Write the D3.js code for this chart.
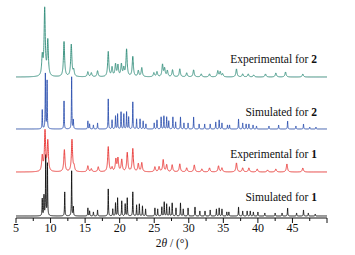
<!DOCTYPE html>
<meta charset="utf-8">
<script src="https://d3js.org/d3.v7.min.js"></script>
<style>
  body { margin: 0; background: #fff; }
</style>
<div id="chart"></div>
<script>
// Peak lists: [2theta, intensity]
var sim1Peaks = [[8.8,17],[9.05,20],[9.3,60],[9.55,52],[12.05,24],[13.05,45],[13.3,9],[15.4,8],[15.65,5],[16.2,4],[16.8,6],
  [18.35,27],[19.0,7],[19.4,13],[19.7,18],[20.3,15],[20.8,12],[21.1,18],[21.9,24],[22.45,11],[22.85,12],[23.3,10],[23.75,7],
  [25.1,8],[25.5,7],[26.1,9],[26.45,14],[26.8,12],[27.2,9],[27.6,13],[28.15,8],[28.8,13],[29.2,7],[29.9,8],[30.9,9],[31.6,5],
  [32.35,5],[33.1,6],[34.0,7],[34.4,8],[34.8,7],[35.5,4],[35.8,4],[37.2,9],[37.8,5],[38.45,5],[38.9,5],[39.35,4],[40.0,4],
  [41.0,3],[42.5,3],[43.5,3],[44.3,8],[45.6,3],[46.6,6],[47.3,3],[48.3,2]];
var exp1Peaks = [[8.8,15],[9.2,40],[9.6,30],[12.0,22],[13.1,32],[13.4,5],[15.4,6],[15.9,3],[16.9,5],[18.35,25],[18.9,4],
  [19.45,12],[19.75,13],[20.3,12],[21.1,19],[21.9,23],[22.7,8],[23.2,9],[25.1,5],[25.7,5],[26.3,12],[26.8,7],[27.6,7],[28.7,8],
  [29.7,4],[30.8,7],[31.9,3],[33.0,4],[34.3,6],[34.8,4],[36.9,9],[37.8,4],[38.7,4],[39.9,3],[41.4,2],[42.6,3],[44.2,8],[46.5,4]];
var sim2Peaks = [[8.8,19],[9.25,55],[9.5,48],[11.95,28],[13.05,52],[13.3,9],[15.4,8],[15.65,5],[16.2,4],[16.8,6],[18.35,30],
  [18.9,9],[19.4,13],[19.7,15],[20.2,17],[20.6,15],[21.0,17],[21.3,12],[21.9,27],[22.45,10],[22.95,10],[23.4,8],[23.8,5],
  [25.0,6],[25.4,9],[26.0,12],[26.4,13],[26.8,12],[27.1,8],[27.7,12],[28.1,7],[28.8,12],[29.3,6],[29.9,6],[30.7,12],[31.5,5],
  [32.3,5],[33.1,5],[33.9,7],[34.4,9],[34.8,6],[35.6,4],[35.9,4],[37.2,10],[37.8,6],[38.3,5],[38.7,5],[39.3,4],[39.8,3],
  [41.6,3],[43.0,4],[44.3,8],[45.5,3],[46.6,5],[47.5,2],[48.4,2]];
var exp2Peaks = [[8.8,19],[9.15,67],[9.6,35],[11.95,35],[13.0,32],[13.35,6],[15.4,5],[15.9,4],[16.8,6],[18.35,25],[18.9,9],
  [19.4,12],[19.75,11],[20.25,12],[20.6,8],[21.0,27],[21.9,20],[22.7,6],[23.2,9],[24.95,4],[25.4,5],[26.2,12],[26.5,8],
  [26.9,6],[27.65,7],[28.7,8],[29.7,4],[30.7,7],[31.8,3],[33.0,3],[34.2,6],[34.55,5],[34.9,3],[36.9,8],[37.8,3],[38.6,3],
  [39.4,2],[41.1,3],[42.6,4],[44.0,5],[46.5,3]];

var patternNames = ["Simulated for ", "Experimental for ", "Simulated for ", "Experimental for "];
var patternIds = ["1", "1", "2", "2"];
var xTicks = [5, 10, 15, 20, 25, 30, 35, 40, 45];

var patterns = [
  {peaks: sim1Peaks, offset: 0, color: "#111", fwhm: 0.07},
  {peaks: exp1Peaks, offset: 44, color: "#e8312f", fwhm: 0.2},
  {peaks: sim2Peaks, offset: 87, color: "#2f52b0", fwhm: 0.07},
  {peaks: exp2Peaks, offset: 139, color: "#2e8b78", fwhm: 0.2}
];
var labelY = [201, 158, 116, 63];
var serif = "'Liberation Serif', 'Times New Roman', 'DejaVu Serif', serif";

var width = 355, height = 255;
var svg = d3.select("#chart").append("svg")
    .attr("width", width).attr("height", height)
    .attr("font-family", serif);

var x = d3.scaleLinear().domain([5, 50]).range([16, 327]);
var y = d3.scaleLinear().domain([0, 216]).range([216, 0]);

// Lorentzian profile built on the peak list
function profile(p) {
  var hw = p.fwhm / 2, pts = [];
  for (var t = 5; t <= 50.0001; t += 0.01) {
    var s = 0;
    p.peaks.forEach(function(k) {
      var u = (t - k[0]) / hw;
      s += k[1] / (1 + u * u);
    });
    pts.push([t, s + p.offset]);
  }
  return pts;
}

var line = d3.line().x(d => x(d[0])).y(d => y(d[1]));

svg.append("g")
  .selectAll("path")
  .data(patterns)
  .join("path")
    .attr("fill", "none")
    .attr("stroke", d => d.color)
    .attr("stroke-width", 0.9)
    .attr("d", d => line(profile(d)));

// labels
var lab = svg.append("g").attr("font-size", 11.5).attr("text-anchor", "end");
patternNames.forEach(function(n, i) {
  var t = lab.append("text").attr("x", 317).attr("y", labelY[i]).attr("fill", "#111");
  t.append("tspan").text(n);
  t.append("tspan").attr("font-weight", "bold").text(patternIds[i]);
});

// x axis
var axisY = 218;
var ax = svg.append("g").attr("transform", `translate(0,${axisY})`);
ax.append("line").attr("x1", 16).attr("x2", 327).attr("stroke", "#111");
ax.selectAll(".minor")
  .data(d3.range(5, 50.01, 2.5))
  .join("line")
    .attr("x1", d => x(d)).attr("x2", d => x(d))
    .attr("y1", 0).attr("y2", d => d % 5 === 0 ? 5 : 3)
    .attr("stroke", "#111");
ax.selectAll(".tl")
  .data(xTicks)
  .join("text")
    .attr("x", d => x(d)).attr("y", 14)
    .attr("text-anchor", "middle")
    .attr("font-size", 12)
    .attr("fill", "#111")
    .text(d => d);

var xl = svg.append("text")
    .attr("x", 172).attr("y", 247)
    .attr("text-anchor", "middle")
    .attr("font-size", 11.5)
    .attr("fill", "#111");
xl.append("tspan").text("2");
xl.append("tspan").attr("font-style", "italic").text("θ");
xl.append("tspan").text(" / (°)");
</script>
